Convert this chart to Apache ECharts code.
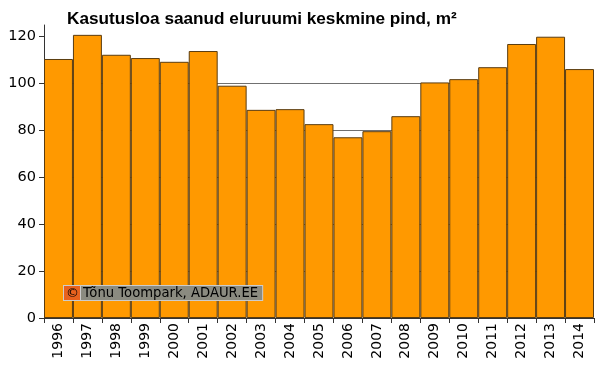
<!DOCTYPE html>
<html><head><meta charset="utf-8">
<script src="https://cdn.jsdelivr.net/npm/echarts@6/dist/echarts.min.js"></script>
<style>html,body{margin:0;padding:0;background:#fff}#c{width:600px;height:366px}</style>
</head><body><div id="c"></div>
<script>
const titleText = 'Kasutusloa saanud eluruumi keskmine pind, m²';
const years = ['1996','1997','1998','1999','2000','2001','2002','2003','2004','2005','2006','2007','2008','2009','2010','2011','2012','2013','2014'];
const values = [110.5,120.8,112.3,110.9,109.3,113.9,99.1,88.8,89.1,82.7,77.1,79.7,86.1,100.5,101.9,107.0,116.9,120.0,106.2];
const yTicks = [0,20,40,60,80,100,120];
const credit = 'Tõnu Toompark, ADAUR.EE';

const chart = echarts.init(document.getElementById('c'), null, {renderer:'canvas'});
chart.setOption({
  animation:false,
  backgroundColor:'#fff',
  title:{text:titleText,left:62,top:6,textStyle:{fontFamily:'Liberation Sans',fontSize:17.2,fontWeight:'bold',color:'#000'}},
  grid:{left:44,right:6,top:25,bottom:48,containLabel:false},
  xAxis:{type:'category',data:years,boundaryGap:true,
    axisLine:{lineStyle:{color:'#333',width:1}},
    axisTick:{show:true,length:5,lineStyle:{color:'#333'}},
    axisLabel:{rotate:90,color:'#000',fontFamily:'DejaVu Sans',fontSize:14,margin:5,interval:0}},
  yAxis:{type:'value',min:0,max:125,
    axisLine:{show:true,lineStyle:{color:'#333',width:1}},
    axisTick:{show:true,length:5,lineStyle:{color:'#333'},customValues:yTicks},
    axisLabel:{color:'#000',fontFamily:'DejaVu Sans',fontSize:14.5,margin:8,customValues:yTicks},
    splitLine:{show:true,showMaxLine:false,lineStyle:{color:'#707070',width:1}}},
  series:[{type:'bar',data:values,barCategoryGap:'0%',clip:false,
    itemStyle:{color:'#ff9900',borderColor:'#5a3c10',borderWidth:1}}],
  graphic:[{type:'text',left:63,top:285,z:100,
    style:{text:'{a|©}{b|'+credit+'}',
      rich:{a:{backgroundColor:'#e8621e',color:'#fff',fontFamily:'DejaVu Sans',fontSize:13,padding:[1,2,0,2],borderColor:'#ccc',borderWidth:1},
            b:{backgroundColor:'#8b8b80',color:'#fff',fontFamily:'DejaVu Sans',fontSize:13.2,padding:[1,4,0,2],borderColor:'#ccc',borderWidth:1}}}}]
});
</script></body></html>
